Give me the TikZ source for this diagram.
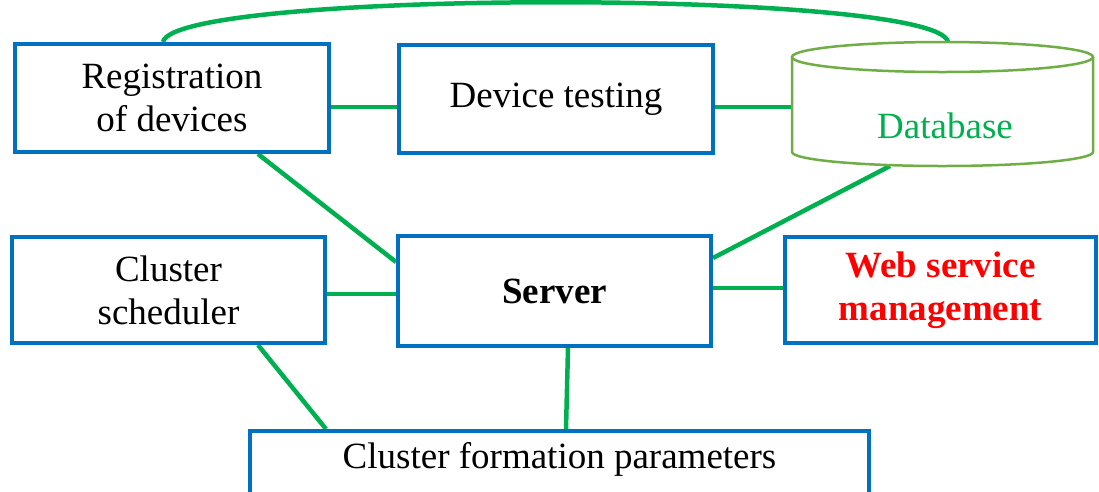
\documentclass[tikz,border=0pt]{standalone}
\usepackage{fontspec}
\setmainfont{Liberation Serif}
\usetikzlibrary{backgrounds}
\definecolor{boxblue}{HTML}{0070C0}
\definecolor{lnkgreen}{HTML}{00B050}
\definecolor{dbgreen}{HTML}{70AD47}
\definecolor{txtred}{HTML}{FF0000}
\begin{document}
\begin{tikzpicture}[x=1pt,y=-1pt,
  box/.style={draw=boxblue, line width=4pt, fill=white, align=center,
    font=\fontsize{37}{43}\selectfont, inner sep=0pt},
  link/.style={draw=lnkgreen, line width=4.5pt},
  dbline/.style={draw=dbgreen, line width=2.5pt}]
\clip (0,0) rectangle (1099,491);
% boxes
\node[box, minimum width=314pt, minimum height=108pt] (reg) at (172,98) {Registration\\of devices};
\node[box, minimum width=314pt, minimum height=108pt] (dev) at (556,99) {Device testing};
\node[box, minimum width=313pt, minimum height=106pt] (sched) at (168.5,290) {Cluster\\scheduler};
\node[box, minimum width=313pt, minimum height=110pt, font=\fontsize{37}{43}\selectfont\bfseries] (server) at (554.5,291) {Server};
\node[box, minimum width=311pt, minimum height=106pt, text=txtred, font=\fontsize{37}{43}\selectfont\bfseries] (web) at (940.5,290) {Web service\\management};
\node[box, minimum width=619pt, text height=37pt, text depth=50pt, anchor=base] (cfp) at (559.5,468) {Cluster formation parameters};
% database cylinder
\fill[white] (792,57) -- (792,152) arc[start angle=180, end angle=360, x radius=150.5pt, y radius=14pt] -- (1093,57) -- cycle;
\draw[dbline] (792,57) -- (792,152) arc[start angle=180, end angle=360, x radius=150.5pt, y radius=14pt] -- (1093,57);
\draw[dbline, fill=white] (942.5,57) ellipse [x radius=150.5pt, y radius=15pt];
\node[minimum width=301pt, inner sep=0pt, text=lnkgreen, font=\fontsize{37}{43}\selectfont] (db) at (945,125.5) {Database};
% connectors
\begin{scope}[on background layer]
\fill[white] (0,0) rectangle (1099,491);
\draw[link] ([yshift=-9pt]reg.east) -- ([yshift=-8pt]dev.west);
\draw[link] ([yshift=-8pt]dev.east) -- ([xshift=-2.5pt,yshift=18.5pt]db.west);
\draw[link] ([xshift=-9pt]reg.north) .. controls (174,-11) and (938,-11) .. ([xshift=3pt,yshift=83.5pt]db.center);
\draw[link] ([xshift=86pt]reg.south) -- ([yshift=29pt]server.west);
\draw[link] ([xshift=-55pt,yshift=-40.5pt]db.center) -- ([yshift=33pt]server.east);
\draw[link] ([yshift=-4pt]sched.east) -- ([yshift=-3pt]server.west);
\draw[link] ([yshift=3pt]server.east) -- ([yshift=2pt]web.west);
\draw[link] ([xshift=89.5pt]sched.south) -- ([xshift=-233.5pt]cfp.north);
\draw[link] ([xshift=13.5pt]server.south) -- ([xshift=6.5pt]cfp.north);
\end{scope}
\end{tikzpicture}
\end{document}
